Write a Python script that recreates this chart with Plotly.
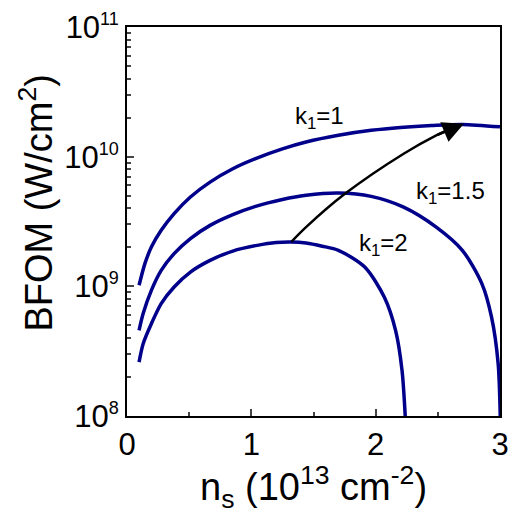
import math
import plotly.graph_objects as go

# ---- data ----
ns_k1_1 = [0.097, 0.144, 0.196, 0.275, 0.379, 0.51, 0.668, 0.851, 1.034, 1.25, 1.44, 1.7,
           1.964, 2.2, 2.45, 2.697, 3.0]
bfom_k1_1 = [1.019e9, 1.496e9, 2.009e9, 2.704e9, 3.639e9, 4.887e9, 6.368e9, 8.072e9, 9.66e9,
             1.148e10, 1.297e10, 1.462e10, 1.596e10, 1.679e10, 1.738e10, 1.774e10, 1.698e10]

ns_k1_15 = [0.097, 0.13, 0.196, 0.275, 0.379, 0.51, 0.668, 0.851, 1.034, 1.25, 1.44, 1.7,
            1.964, 2.225, 2.487, 2.697, 2.854, 2.932, 2.985, 3.004]
bfom_k1_15 = [4.58e8, 6.17e8, 9.31e8, 1.327e9, 1.786e9, 2.333e9, 2.951e9, 3.573e9, 4.14e9,
              4.677e9, 5.035e9, 5.236e9, 4.943e9, 4.083e9, 2.864e9, 1.897e9, 1.05e9, 5.79e8,
              2.535e8, 8e7]

ns_k1_2 = [0.097, 0.13, 0.196, 0.275, 0.379, 0.51, 0.668, 0.851, 1.047, 1.2, 1.322, 1.44,
           1.57, 1.7, 1.912, 2.069, 2.16, 2.212, 2.243]
bfom_k1_2 = [2.606e8, 3.614e8, 5.152e8, 7.362e8, 9.886e8, 1.288e9, 1.585e9, 1.871e9, 2.07e9,
             2.178e9, 2.198e9, 2.158e9, 2.04e9, 1.897e9, 1.409e9, 8.26e8, 4.58e8, 2.249e8, 8e7]

arrow_x = [1.322, 1.44, 1.755, 2.225, 2.487, 2.6]
arrow_y = [2.2e9, 2.86e9, 5.19e9, 1.054e10, 1.459e10, 1.64e10]
arrow_tip = (2.71, 1.795e10)

labels = ["k<sub>1</sub>=1", "k<sub>1</sub>=1.5", "k<sub>1</sub>=2"]
label_x = [1.55, 2.6, 2.06]
label_y = [2.0e10, 5.3e9, 2.1e9]

y_ticks = [1e8, 1e9, 1e10, 1e11]
SUP = "<sup><span style='font-size:18px'>{}</span></sup>"
y_ticktext = ["10" + SUP.format(e) for e in (8, 9, 10, 11)]
y_minor = [m * 10 ** e for e in (8, 9, 10) for m in range(2, 10)]
x_ticks = [0, 1, 2, 3]
x_minor = [0.5, 1.5, 2.5]

FONT = "Liberation Sans, Arial, sans-serif"
NAVY = "#00008B"

fig = go.Figure()
for xs, ys in [(ns_k1_1, bfom_k1_1), (ns_k1_15, bfom_k1_15), (ns_k1_2, bfom_k1_2)]:
    fig.add_trace(go.Scatter(x=xs, y=ys, mode="lines",
                             line=dict(color=NAVY, width=3.5, shape="spline", smoothing=0.8),
                             showlegend=False, hoverinfo="skip"))

fig.add_trace(go.Scatter(x=arrow_x, y=arrow_y, mode="lines",
                         line=dict(color="black", width=2.5, shape="spline"),
                         showlegend=False, hoverinfo="skip"))
fig.add_annotation(x=arrow_tip[0], y=math.log10(arrow_tip[1]),
                   ax=arrow_x[-2], ay=math.log10(arrow_y[-2]),
                   xref="x", yref="y", axref="x", ayref="y", text="", showarrow=True,
                   arrowhead=2, arrowsize=1.7, arrowwidth=2.5, arrowcolor="black", standoff=0)

for t, lx, ly in zip(labels, label_x, label_y):
    fig.add_annotation(x=lx, y=math.log10(ly), xref="x", yref="y", text=t, showarrow=False,
                       font=dict(family=FONT, size=24, color="black"))

# axis titles
fig.add_annotation(x=-0.2435, y=0.549, xref="paper", yref="paper", textangle=-90,
                   text="BFOM (W/cm<sup>2</sup>)", showarrow=False,
                   xanchor="center", yanchor="middle",
                   font=dict(family=FONT, size=38, color="black"))
fig.add_annotation(x=0.5, y=-0.183, xref="paper", yref="paper",
                   text="n<sub>s</sub> (10<sup>13</sup> cm<sup>-2</sup>)", showarrow=False,
                   xanchor="center", yanchor="middle",
                   font=dict(family=FONT, size=38, color="black"))

fig.update_layout(
    width=518, height=515,
    margin=dict(l=127, r=9, t=27, b=99),
    paper_bgcolor="white", plot_bgcolor="white",
    font=dict(family=FONT, color="black"),
)
fig.update_xaxes(range=[0, 3], tickvals=x_ticks, ticks="inside", ticklen=7, tickwidth=2,
                 showline=True, linewidth=2, linecolor="black", mirror=True,
                 showgrid=False, zeroline=False,
                 tickfont=dict(size=31, family=FONT),
                 minor=dict(tickvals=x_minor, ticks="inside", ticklen=4, tickwidth=2, showgrid=False))
fig.update_yaxes(type="log", range=[8, 11], tickvals=y_ticks, ticktext=y_ticktext,
                 ticks="inside", ticklen=7, tickwidth=2,
                 showline=True, linewidth=2, linecolor="black", mirror=True,
                 showgrid=False, zeroline=False,
                 tickfont=dict(size=31, family=FONT),
                 minor=dict(tickvals=y_minor, ticks="inside", ticklen=4, tickwidth=1.5, showgrid=False))

fig.write_html("out.html")
